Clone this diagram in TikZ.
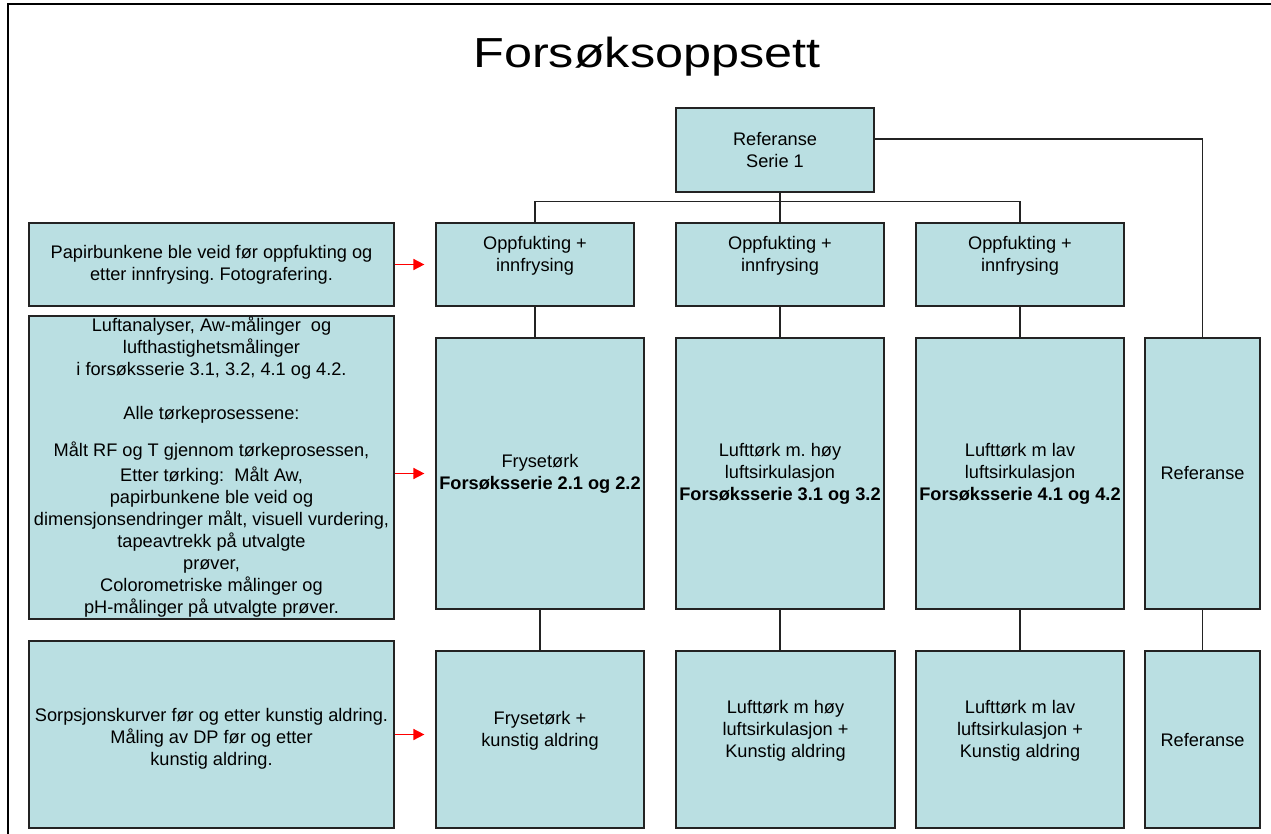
\documentclass[tikz,border=0pt]{standalone}
\usepackage{fontspec}
\setmainfont{Liberation Sans}
\usepackage{graphicx}
\usetikzlibrary{arrows.meta,positioning}
\definecolor{boxc}{RGB}{186,223,226}
\definecolor{linec}{RGB}{35,35,35}
\definecolor{notec}{RGB}{255,0,0}
\newcommand{\bodyfont}{\fontsize{18.2}{22}\selectfont}
\frenchspacing

\begin{document}
\begin{tikzpicture}[x=1pt, y=-1pt,
  every node/.style={font=\bodyfont, align=center},
  box/.style={draw=linec, fill=boxc, line width=1.2pt, inner sep=1pt},
  link/.style={draw=linec, line width=1.2pt},
  note/.style={draw=notec, line width=1.6pt, -{Triangle[length=11pt,width=11pt]}, shorten >=11pt}]
  \useasboundingbox (0,0) rectangle (1271,834);
  % frame and title
  \draw[line width=1.6pt] (8,834) -- (8,4) -- (1271,4);
  \node[anchor=base] (title) at (647,68) {\scalebox{1.2}[1]{\fontsize{42}{48}\selectfont Forsøksoppsett}};
  % tree of test series
  \node[box, minimum width=198pt, minimum height=84pt] (ref) at (775,150) {Referanse\\Serie 1};
  \node[box, minimum width=198pt, minimum height=83pt] (o1) at (535,264.5) {Oppfukting +\\innfrysing\\\mbox{}};
  \node[box, minimum width=208pt, minimum height=83pt] (o2) at (780,264.5) {Oppfukting +\\innfrysing\\\mbox{}};
  \node[box, minimum width=208pt, minimum height=83pt] (o3) at (1020,264.5) {Oppfukting +\\innfrysing\\\mbox{}};
  \node[box, minimum width=208pt, minimum height=271pt] (m1) at (540,473.5) {Frysetørk\\\textbf{Forsøksserie 2.1 og 2.2}};
  \node[box, minimum width=208pt, minimum height=271pt] (m2) at (780,473.5) {Lufttørk m. høy\\luftsirkulasjon\\\textbf{Forsøksserie 3.1 og 3.2}};
  \node[box, minimum width=208pt, minimum height=271pt] (m3) at (1020,473.5) {Lufttørk m lav\\luftsirkulasjon\\\textbf{Forsøksserie 4.1 og 4.2}};
  \node[box, minimum width=115pt, minimum height=271pt] (m4) at (1202.5,473.5) {Referanse};
  \node[box, minimum width=208pt, minimum height=177pt] (b1) at (540,739.5) {Frysetørk +\\kunstig aldring\\\mbox{}};
  \node[box, minimum width=219pt, minimum height=177pt] (b2) at (785.5,739.5) {Lufttørk m høy\\luftsirkulasjon +\\Kunstig aldring\\\mbox{}};
  \node[box, minimum width=208pt, minimum height=177pt] (b3) at (1020,739.5) {Lufttørk m lav\\luftsirkulasjon +\\Kunstig aldring\\\mbox{}};
  \node[box, minimum width=115pt, minimum height=177pt] (b4) at (1202.5,739.5) {Referanse};
  % notes on the left
  \node[box, minimum width=365pt, minimum height=83pt] (l1) at (211.5,264.5) {Papirbunkene ble veid før oppfukting og\\etter innfrysing. Fotografering.};
  \node[box, minimum width=365pt, minimum height=303pt] (l2) at (211.5,467.5) {Luftanalyser, Aw-målinger\ \ og\\lufthastighetsmålinger\\i forsøksserie 3.1, 3.2, 4.1 og 4.2.\\[22pt]
    Alle tørkeprosessene:\\[15pt]
    Målt RF og T gjennom tørkeprosessen,\\[3pt]
    Etter tørking:\ \ Målt Aw,\\papirbunkene ble veid og\\dimensjonsendringer målt, visuell vurdering,\\tapeavtrekk på utvalgte\\prøver,\\Colorometriske målinger og\\pH-målinger på utvalgte prøver.};
  \node[box, minimum width=365pt, minimum height=187pt] (l3) at (211.5,734.5) {\mbox{}\\Sorpsjonskurver før og etter kunstig aldring.\\Måling av DP før og etter\\kunstig aldring.};
  % connectors
  \draw[link] (o2.north) -- (o2.north |- ref.south);
  \draw[link] (o1.north) -- ++(0,-21) -| (o3.north);
  \draw[link] ([yshift=11pt]ref.east) -| (m4.north);
  \draw[link] (o1.south) -- (o1.south |- m1.north);
  \draw[link] (o2.south) -- (m2.north);
  \draw[link] (o3.south) -- (m3.north);
  \draw[link] (m1.south) -- (b1.north);
  \draw[link] (m2.south) -- (m2.south |- b2.north);
  \draw[link] (m3.south) -- (b3.north);
  \draw[link] (m4.south) -- (b4.north);
  \draw[note] (l1.east) -- (o1.west);
  \draw[note] (l2.east |- m1.west) -- (m1.west);
  \draw[note] (l3.east) -- (l3.east -| b1.west);
\end{tikzpicture}
\end{document}
